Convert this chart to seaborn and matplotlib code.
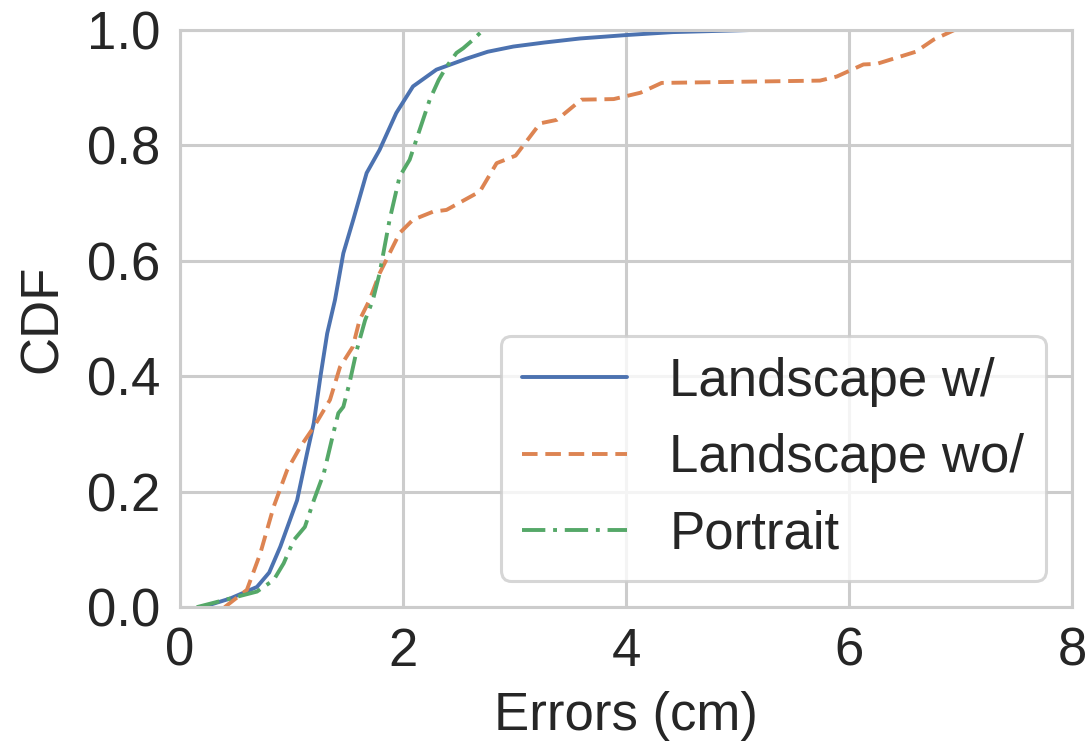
import numpy as np
import pandas as pd
import seaborn as sns
import matplotlib
matplotlib.use("Agg")
import matplotlib.pyplot as plt

# Landscape w/
lw_x = [0.20, 0.45, 0.69, 0.80, 0.90, 1.05, 1.14, 1.20, 1.26, 1.32, 1.39, 1.465, 1.554,
        1.674, 1.79, 1.94, 2.09, 2.30, 2.57, 2.76, 2.99, 3.27, 3.59, 4.01, 4.42, 5.19]
lw_y = [0.0, 0.015, 0.035, 0.06, 0.105, 0.185, 0.267, 0.319, 0.40, 0.474, 0.532, 0.613, 0.671,
        0.752, 0.792, 0.856, 0.902, 0.931, 0.95, 0.962, 0.971, 0.978, 0.985, 0.991, 0.996, 1.0]

# Landscape wo/
lwo_x = [0.40, 0.42, 0.60, 0.72, 0.84, 0.96, 1.08, 1.20, 1.345, 1.435, 1.55, 1.61, 1.70, 1.79,
         1.97, 2.09, 2.27, 2.39, 2.69, 2.84, 3.01, 3.23, 3.38, 3.60, 3.89, 4.13, 4.32, 5.74,
         5.89, 6.13, 6.25, 6.60, 6.76, 6.95]
lwo_y = [0.0, 0.003, 0.03, 0.093, 0.174, 0.237, 0.278, 0.312, 0.359, 0.416, 0.451, 0.497, 0.532, 0.578,
         0.648, 0.671, 0.685, 0.688, 0.72, 0.769, 0.782, 0.838, 0.844, 0.879, 0.880, 0.891, 0.908, 0.912,
         0.919, 0.94, 0.941, 0.962, 0.983, 1.0]

# Portrait
p_x = [0.15, 0.39, 0.69, 0.84, 0.93, 1.02, 1.12, 1.20, 1.29, 1.375, 1.42, 1.465, 1.52, 1.585,
       1.66, 1.73, 1.79, 1.88, 1.97, 2.06, 2.15, 2.24, 2.32, 2.39, 2.48, 2.54, 2.63, 2.72]
p_y = [0.0, 0.012, 0.027, 0.047, 0.076, 0.116, 0.139, 0.185, 0.232, 0.301, 0.336, 0.347, 0.388, 0.445,
       0.497, 0.532, 0.578, 0.671, 0.746, 0.775, 0.827, 0.879, 0.913, 0.936, 0.96, 0.968, 0.983, 1.0]

labels = ["Landscape w/", "Landscape wo/", "Portrait"]

df = pd.concat([
    pd.DataFrame({"x": lw_x, "y": lw_y, "series": labels[0]}),
    pd.DataFrame({"x": lwo_x, "y": lwo_y, "series": labels[1]}),
    pd.DataFrame({"x": p_x, "y": p_y, "series": labels[2]}),
], ignore_index=True)

sns.set_theme(style="whitegrid")
plt.rcParams["font.family"] = ["Liberation Sans", "DejaVu Sans"]
plt.rcParams.update({
    "axes.edgecolor": "#cccccc",
    "grid.color": "#cccccc",
    "axes.linewidth": 2.2,
    "grid.linewidth": 2.2,
})

fig = plt.figure(figsize=(10.89, 7.45), dpi=100)
ax = fig.add_axes([0.1653, 0.185, 0.8190, 0.775])

pal = sns.color_palette("deep", 3)
dashes = {labels[0]: "", labels[1]: (4, 2), labels[2]: (6, 2, 1, 2)}
sns.lineplot(data=df, x="x", y="y", hue="series", style="series", palette=pal,
             dashes=dashes, linewidth=2.8, sort=False, estimator=None, ax=ax)

ax.set_xlim(0, 8)
ax.set_ylim(0, 1)
ax.set_xticks([0, 2, 4, 6, 8])
ax.set_yticks([0, 0.2, 0.4, 0.6, 0.8, 1.0])
ax.set_yticklabels(["0.0", "0.2", "0.4", "0.6", "0.8", "1.0"])
ax.tick_params(labelsize=38, colors="#262626", pad=8)
ax.set_xlabel("Errors (cm)", fontsize=38, color="#262626", labelpad=10)
ax.set_ylabel("CDF", fontsize=38, color="#262626", labelpad=14)

leg = ax.legend(loc="lower right", fontsize=38, frameon=True, borderpad=0.4,
                labelspacing=0.5, handlelength=2.0, handletextpad=0.8,
                bbox_to_anchor=(1.0, 0.0))
leg.get_frame().set_edgecolor("#cccccc")
leg.get_frame().set_linewidth(2.2)
for l in leg.get_lines():
    l.set_linewidth(2.8)

fig.savefig("out.png", dpi=100)
